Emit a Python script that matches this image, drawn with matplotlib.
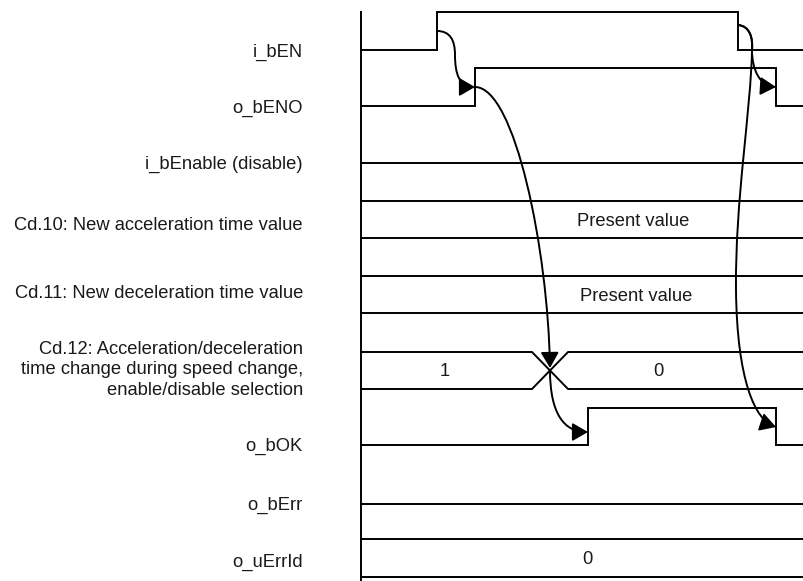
import matplotlib
matplotlib.use("Agg")
import matplotlib.pyplot as plt
from matplotlib.path import Path
from matplotlib.patches import FancyArrowPatch

plt.rcParams['font.family'] = ['Liberation Sans', 'DejaVu Sans']

# ---- data ----
signal_labels = ["i_bEN", "o_bENO", "i_bEnable (disable)",
                 "Cd.10: New acceleration time value",
                 "Cd.11: New deceleration time value",
                 "Cd.12: Acceleration/deceleration\ntime change during speed change,\nenable/disable selection",
                 "o_bOK", "o_bErr", "o_uErrId"]
# bit signals: edge times
en_edges = [437, 738]
eno_edges = [475, 776]
ok_edges = [588, 776]
# word signals
cd10_values = ["Present value"]
cd11_values = ["Present value"]
cd12_cross = 550
cd12_values = ["1", "0"]
errid_values = ["0"]

T0, T1 = 361, 804
FS = 13.2
TC = '#1a1a1a'

fig = plt.figure(figsize=(8.04, 5.81), dpi=100)
ax = fig.add_axes([0, 0, 1, 1])
ax.set_xlim(0, 804)
ax.set_ylim(581, 0)
ax.axis('off')

LW = 1.4
K = 'black'

def bit(low, high, edges):
    xs = [T0]; ys = [low]
    lvl = low
    for e in edges:
        xs += [e, e]
        ys += [lvl, high if lvl == low else low]
        lvl = high if lvl == low else low
    xs.append(T1); ys.append(lvl)
    ax.plot(xs, ys, color=K, lw=LW, solid_joinstyle='miter')

def word(top, bot, text, tx):
    ax.plot([T0, T1], [top, top], color=K, lw=LW)
    ax.plot([T0, T1], [bot, bot], color=K, lw=LW)
    ax.text(tx, (top + bot) / 2 + 2, text, ha='center', va='center',
            fontsize=FS, color=TC)

# vertical time axis
ax.plot([T0, T0], [12, 581], color=K, lw=LW)

# rows
bit(50, 12, en_edges)
bit(106, 68, eno_edges)
bit(163, 163, [])
word(201, 238, cd10_values[0], 633)
word(276, 313, cd11_values[0], 636)
top, bot = 352, 389
c = cd12_cross
ax.plot([T0, c - 18, c + 18, T1], [top, top, bot, bot], color=K, lw=LW)
ax.plot([T0, c - 18, c + 18, T1], [bot, bot, top, top], color=K, lw=LW)
ax.text(445, 372, cd12_values[0], ha='center', va='center', fontsize=FS, color=TC)
ax.text(658, 372, cd12_values[1], ha='center', va='center', fontsize=FS, color=TC)
bit(445, 408, ok_edges)
bit(504, 504, [])
word(539, 577, errid_values[0], 587)

# labels
label_y = [52, 108, 164, 225, 293, 370, 446, 505, 562]
for lab, y in zip(signal_labels, label_y):
    ax.text(303, y, lab, ha='right', va='center', fontsize=FS, color=TC,
            linespacing=1.3, multialignment='right')

# arrows
def arrow(verts, codes):
    p = Path(verts, codes)
    a = FancyArrowPatch(path=p, arrowstyle='-|>,head_length=0.95,head_width=0.55',
                        mutation_scale=10, color=K, lw=LW, shrinkA=0, shrinkB=0)
    ax.add_patch(a)

M, C = Path.MOVETO, Path.CURVE4
arrow([(437, 31), (450, 31), (455, 40), (455, 55), (455, 75), (460, 87), (475, 87)],
      [M, C, C, C, C, C, C])
arrow([(475, 87), (515, 87), (548, 250), (550, 368)], [M, C, C, C])
arrow([(550, 370), (550, 415), (565, 432), (588, 432)], [M, C, C, C])
arrow([(738, 25), (750, 26), (753, 38), (752, 50), (752, 70), (760, 86), (776, 87)],
      [M, C, C, C, C, C, C])
arrow([(738, 25), (750, 26), (753, 38), (752, 50), (751, 110), (735, 200), (736, 290),
       (737, 380), (755, 420), (776, 427)],
      [M, C, C, C, C, C, C, C, C, C])

fig.savefig("out.png", dpi=100)
